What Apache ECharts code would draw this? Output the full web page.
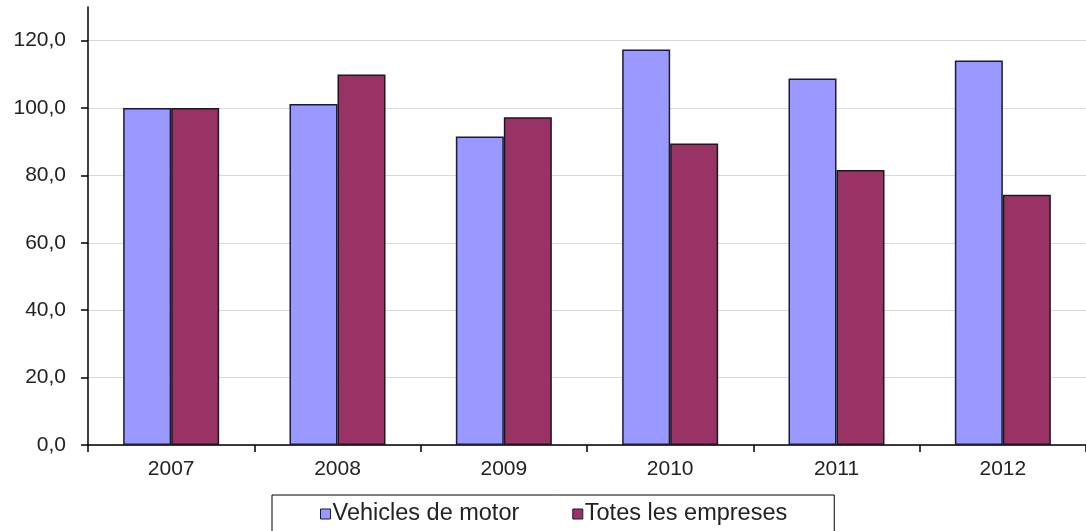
<!DOCTYPE html>
<html>
<head>
<meta charset="utf-8">
<script src="https://cdn.jsdelivr.net/npm/echarts@6/dist/echarts.min.js"></script>
<style>html,body{margin:0;padding:0;background:#fff}#c{width:1086px;height:531px}</style>
</head>
<body>
<div id="c"></div>
<script>
const categories = ['2007', '2008', '2009', '2010', '2011', '2012'];
const vehicles = [100.0, 101.2, 91.6, 117.4, 108.8, 114.1];
const totes = [100.0, 110.0, 97.3, 89.5, 81.6, 74.3];
const seriesNames = ['Vehicles de motor', 'Totes les empreses'];

const chart = echarts.init(document.getElementById('c'), null, {renderer: 'canvas'});
const font = 'Liberation Sans, Arial, sans-serif';
chart.setOption({
  animation: false,
  backgroundColor: '#fff',
  grid: {left: 88, top: 7, width: 1005, height: 438, containLabel: false},
  legend: {
    data: seriesNames,
    left: 272, top: 495,
    padding: [7, 47, 12, 48],
    itemGap: 53,
    itemWidth: 10, itemHeight: 10,
    icon: 'rect',
    borderColor: '#000', borderWidth: 1,
    textStyle: {fontFamily: font, fontSize: 23.5, color: '#222', padding: [0, 0, 0, -3]},
    itemStyle: {borderColor: '#1a1a3a', borderWidth: 1}
  },
  xAxis: {
    type: 'category',
    data: categories,
    axisLine: {lineStyle: {color: '#000', width: 1.5}},
    axisTick: {show: true, length: 7, lineStyle: {color: '#000', width: 1.5}},
    axisLabel: {fontFamily: font, fontSize: 21, color: '#222', margin: 14},
    splitLine: {show: false}
  },
  yAxis: {
    type: 'value',
    min: 0, max: 130, interval: 20,
    axisLine: {show: true, lineStyle: {color: '#000', width: 1.5}},
    axisTick: {show: true, length: 7, lineStyle: {color: '#000', width: 1.5}},
    axisLabel: {fontFamily: font, fontSize: 21, color: '#222', margin: 22, showMaxLabel: false,
      formatter: v => v.toFixed(1).replace('.', ',')},
    splitLine: {show: true, showMaxLine: false, lineStyle: {color: '#d9d9d9', width: 1}}
  },
  series: [
    {
      name: seriesNames[0], type: 'bar', data: vehicles,
      barWidth: 48, barGap: '0%',
      itemStyle: {color: '#9999ff', borderColor: '#1a1a3a', borderWidth: 1.5}
    },
    {
      name: seriesNames[1], type: 'bar', data: totes,
      barWidth: 48, barGap: '0%',
      itemStyle: {color: '#993366', borderColor: '#1a1a1a', borderWidth: 1.5}
    }
  ]
});
</script>
</body>
</html>
